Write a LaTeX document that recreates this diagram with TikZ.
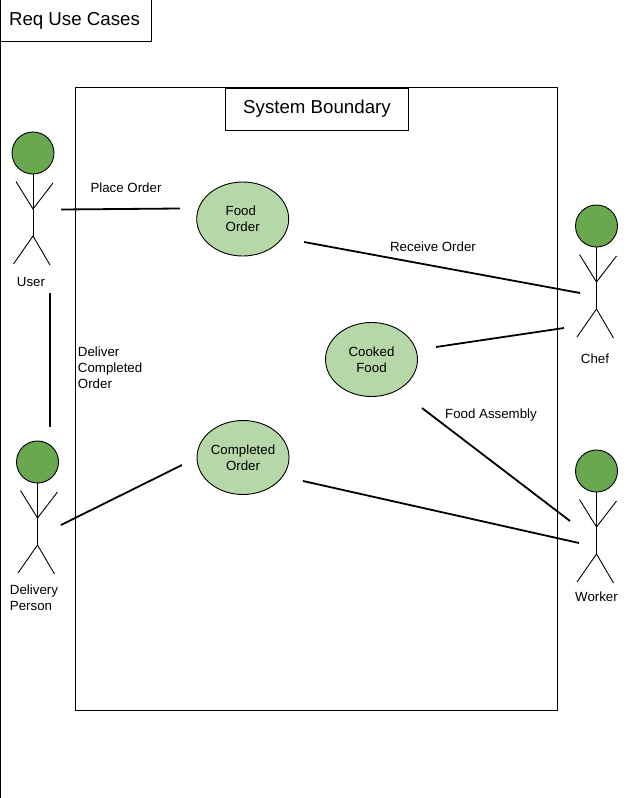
\documentclass[tikz,border=0pt]{standalone}
\usepackage{fontspec}
\setmainfont{Liberation Sans}
\usetikzlibrary{shapes.geometric,calc}
\definecolor{headgreen}{HTML}{6AA84F}
\definecolor{casegreen}{HTML}{B6D7A8}
\tikzset{
  usecase/.style={draw,ellipse,fill=casegreen,minimum width=92pt,minimum height=74pt,inner sep=0pt,align=left,font=\fontsize{13.3}{16}\selectfont},
  assoc/.style={line width=1.8pt},
  lbl/.style={inner sep=0pt,align=left,font=\fontsize{13.3}{16}\selectfont},
  titlebox/.style={draw,line width=0.9pt,font=\fontsize{18.7}{22}\selectfont}
}
% stick figure, head centre at #2
\newcommand{\actor}[2]{
  \node[draw,circle,fill=headgreen,minimum size=42pt,inner sep=0pt] (#1) at (#2) {};
  \draw (#1.south) -- ++(0,62);
  \draw ($(#1)+(-17,28.5)$) -- ($(#1)+(0,56)$) -- ($(#1)+(20,30)$);
  \draw ($(#1)+(-19.5,111)$) -- ($(#1)+(0,83)$) -- ($(#1)+(17,112)$);
}
\begin{document}
\begin{tikzpicture}[x=1pt,y=-1pt,line width=0.9pt]
\useasboundingbox (0,0) rectangle (633,798);
% page edge and title
\draw (0.8,0) -- (0.8,798);
\draw (0.8,41.5) -- (151.5,41.5) -- (151.5,0);
\node[inner sep=0pt,font=\fontsize{18.7}{22}\selectfont] (title) at (74.5,21) {Req Use Cases};
% system boundary
\draw (75.5,87.5) rectangle (557,710);
\node[titlebox,minimum width=183pt,minimum height=42pt,inner sep=0pt] (boundary) at (317,109) {System Boundary};
% use cases
\node[usecase] (foodorder) at (242.7,219) {Food\\Order};
\node[usecase,align=center] (cookedfood) at (371.5,359.5) {Cooked\\Food};
\node[usecase,align=center] (completedorder) at (243,457.5) {Completed\\Order};
% actors
\actor{user}{33,153}
\actor{delivery}{37.5,462}
\actor{chef}{596.5,226}
\actor{worker}{596.5,471}
\node[lbl] (userlbl) at (31,282) {User};
\node[lbl] (deliverylbl) at (34,598) {Delivery\\Person};
\node[lbl] (cheflbl) at (595,359) {Chef};
\node[lbl] (workerlbl) at (596.5,597) {Worker};
% loose ends of the associations
\coordinate (a1) at (61,209.5);
\coordinate (a2) at (180,208.5);
\coordinate (b1) at (304,242);
\coordinate (b2) at (580,293);
\coordinate (c1) at (436,347);
\coordinate (c2) at (564,328);
\coordinate (d1) at (422,408);
\coordinate (d2) at (570,521);
\coordinate (e1) at (303,481);
\coordinate (e2) at (579,543);
\coordinate (f1) at (61,525);
\coordinate (f2) at (182,465);
\coordinate (g1) at (50,293);
\coordinate (g2) at (50,427);
\foreach \p/\q in {a1/a2,b1/b2,c1/c2,d1/d2,e1/e2,f1/f2,g1/g2} {
  \draw[assoc] (\p) -- (\q);
}
% association labels
\node[lbl] (placelbl) at (126,188) {Place Order};
\node[lbl] (receivelbl) at (433,247) {Receive Order};
\node[lbl] (assemblylbl) at (491,415) {Food Assembly};
\node[lbl,anchor=west] (deliverlbl) at (77.5,368) {Deliver\\Completed\\Order};
\end{tikzpicture}
\end{document}
